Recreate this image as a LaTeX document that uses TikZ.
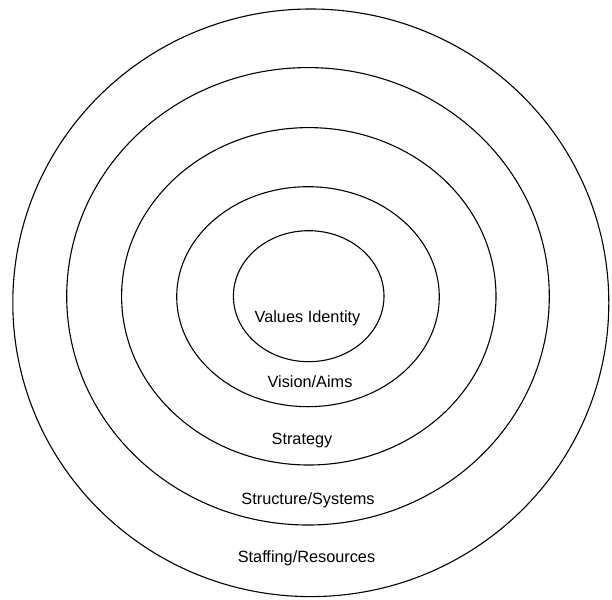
\documentclass[tikz,border=0pt]{standalone}
\usepackage{fontspec}
\setmainfont{Liberation Sans}
\begin{document}
\begin{tikzpicture}[x=1pt,y=-1pt,
  ring/.style={draw=black,line width=1.1pt},
  lbl/.style={anchor=base,inner sep=0pt,font=\fontsize{16.3}{19}\selectfont}]
\useasboundingbox (0,0) rectangle (612,599);
\fill[white] (0,0) rectangle (612,599);
\draw[ring] (310.8,302.8) ellipse [x radius=298, y radius=293.8];
\draw[ring] (308,296.3) ellipse [x radius=241.3, y radius=228.7];
\draw[ring] (308.8,296.3) ellipse [x radius=187.2, y radius=168.7];
\draw[ring] (308,296.7) ellipse [x radius=131.3, y radius=110];
\draw[ring] (308.7,296.2) ellipse [x radius=75.3, y radius=65.5];
\node[lbl] (values) at (307.5,322) {Values Identity};
\node[lbl] (vision) at (310,387) {Vision/Aims};
\node[lbl] (strategy) at (302,444) {Strategy};
\node[lbl] (structure) at (308,504) {Structure/Systems};
\node[lbl] (staffing) at (306.5,562) {Staffing/Resources};
\end{tikzpicture}
\end{document}
